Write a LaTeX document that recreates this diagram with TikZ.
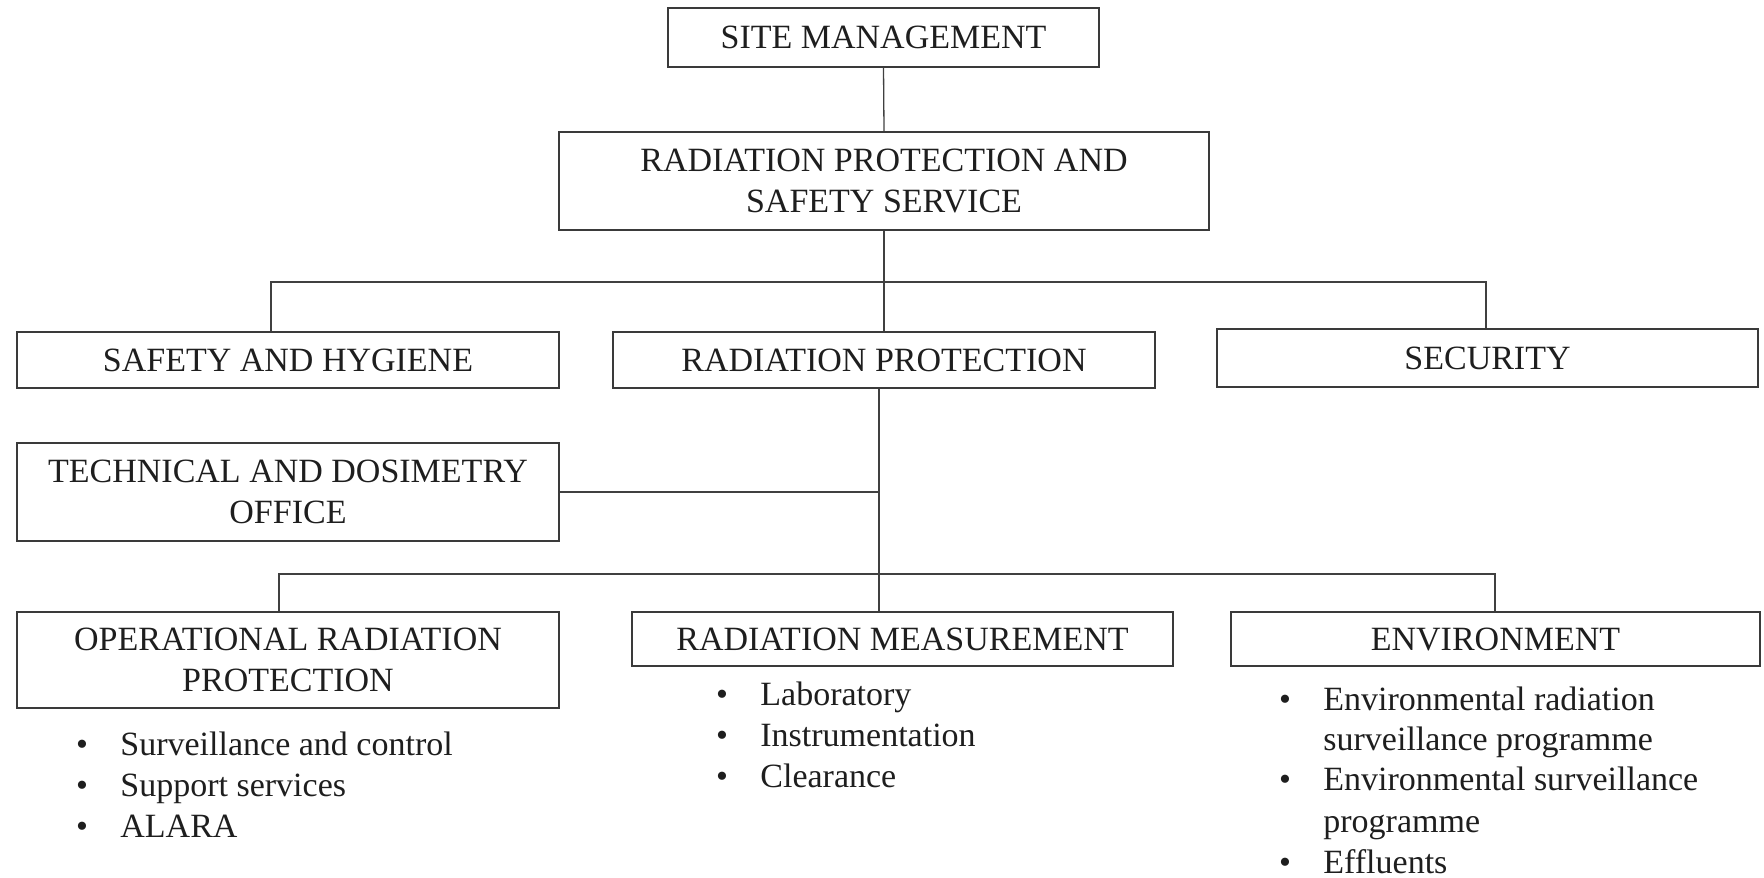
\documentclass[tikz,border=0pt]{standalone}
\usepackage{fontspec}
\setmainfont{Liberation Serif}
\definecolor{boxc}{HTML}{3A3A3A}
\definecolor{linec}{HTML}{404040}
\definecolor{txt}{HTML}{1E1E1E}
\begin{document}
\begin{tikzpicture}[x=0.5pt,y=-0.5pt,
  box/.style={draw=boxc, line width=1pt, align=center, inner sep=0pt,
    font=\fontsize{17}{20.5}\selectfont, text=txt},
  ln/.style={draw=linec, line width=0.65pt},
  itm/.style={anchor=base west, inner sep=0pt, font=\fontsize{17}{20.5}\selectfont, text=txt},
  bul/.style={anchor=base, inner sep=0pt, font=\fontsize{17}{20.5}\selectfont, text=txt}]
\useasboundingbox (0,0) rectangle (1764,877);

% boxes
\node[box, minimum width=215.5pt, minimum height=29.5pt] (sm) at (883.5,37.5) {SITE MANAGEMENT};
\node[box, minimum width=325pt, minimum height=49pt] (rpss) at (884,181) {RADIATION PROTECTION AND\\SAFETY SERVICE};
\node[box, minimum width=271pt, minimum height=28pt] (sh) at (288,360) {SAFETY AND HYGIENE};
\node[box, minimum width=271pt, minimum height=28pt] (rp) at (884,360) {RADIATION PROTECTION};
\node[box, minimum width=270.5pt, minimum height=29pt] (sec) at (1487.5,358) {SECURITY};
\node[box, minimum width=271pt, minimum height=49pt] (tech) at (288,492) {TECHNICAL AND DOSIMETRY\\OFFICE};
\node[box, minimum width=271pt, minimum height=48pt] (op) at (288,660) {OPERATIONAL RADIATION\\PROTECTION};
\node[box, minimum width=270.5pt, minimum height=27pt] (rm) at (902.5,639) {RADIATION MEASUREMENT};
\node[box, minimum width=264.5pt, minimum height=27pt] (env) at (1495.5,639) {ENVIRONMENT};

% connector coordinates
\coordinate (j1) at (884,282);
\coordinate (l1) at (271,282);
\coordinate (r1) at (1486,282);
\coordinate (sp) at (879,574);
\coordinate (l2) at (279,574);
\coordinate (r2) at (1495,574);

% connectors
\draw[ln] (sm.south) -- (rpss.north);
\draw[ln] (rpss.south) -- (j1) -- (rp.north -| j1);
\draw[ln] (sh.north -| l1) -- (l1) -- (r1) -- (sec.north -| r1);
\draw[ln] (rp.south -| sp) -- (rm.north -| sp);
\draw[ln] (tech.east) -- (tech.east -| sp);
\draw[ln] (op.north -| l2) -- (l2) -- (r2) -- (env.north -| r2);

% operational items
\node[bul] (ob1) at (82,755) {\textbullet};
\node[itm] (ot1) at (120,755) {Surveillance and control};
\node[bul] (ob2) at (82,796) {\textbullet};
\node[itm] (ot2) at (120,796) {Support services};
\node[bul] (ob3) at (82,837) {\textbullet};
\node[itm] (ot3) at (120,837) {ALARA};

% measurement items
\node[bul] (mb1) at (722,705) {\textbullet};
\node[itm] (mt1) at (760,705) {Laboratory};
\node[bul] (mb2) at (722,746) {\textbullet};
\node[itm] (mt2) at (760,746) {Instrumentation};
\node[bul] (mb3) at (722,787) {\textbullet};
\node[itm] (mt3) at (760,787) {Clearance};

% environment items
\node[bul] (eb1) at (1285,710) {\textbullet};
\node[itm] (et1) at (1323,710) {Environmental radiation};
\node[itm] (et1b) at (1323,750) {surveillance programme};
\node[bul] (eb2) at (1285,790) {\textbullet};
\node[itm] (et2) at (1323,790) {Environmental surveillance};
\node[itm] (et2b) at (1323,832) {programme};
\node[bul] (eb3) at (1285,873) {\textbullet};
\node[itm] (et3) at (1323,873) {Effluents};
\end{tikzpicture}
\end{document}
